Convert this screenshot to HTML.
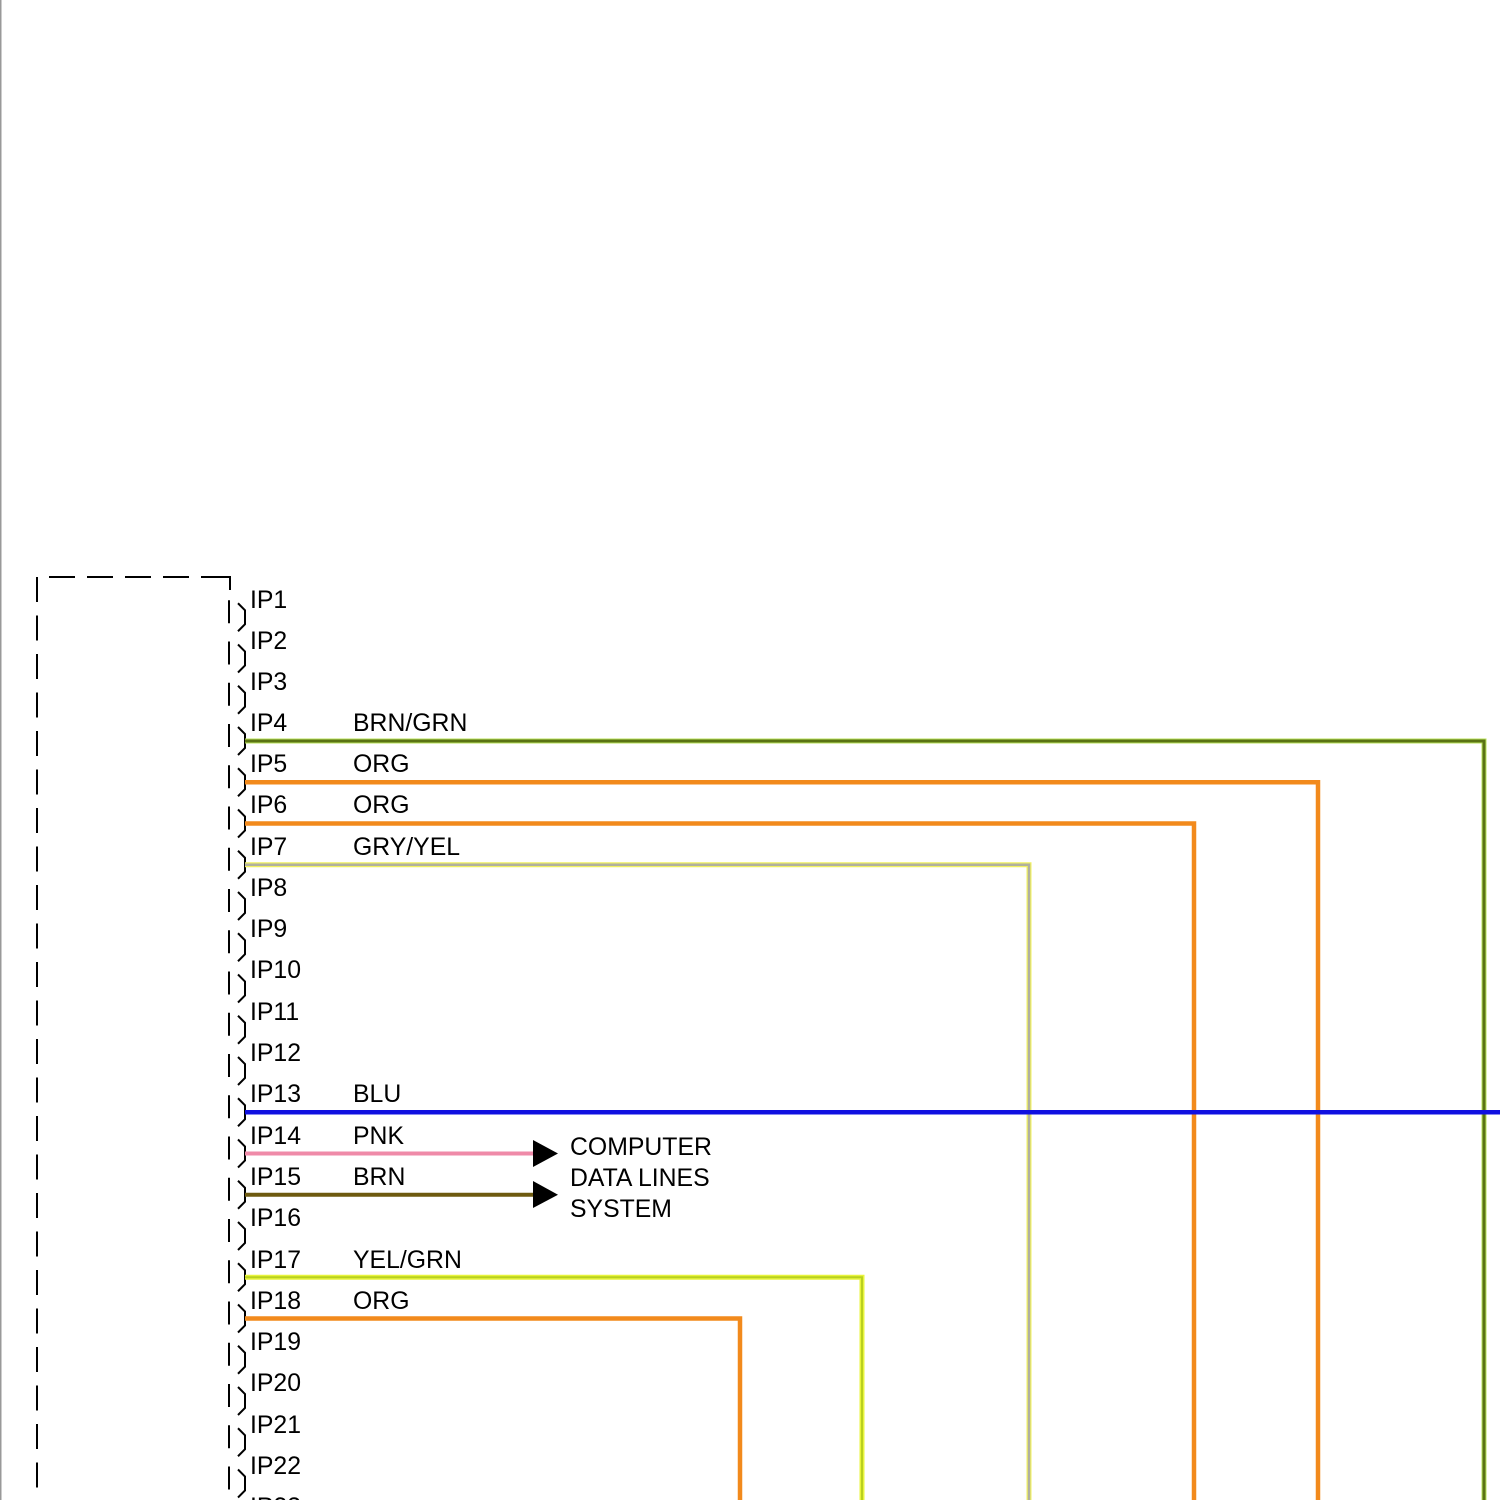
<!DOCTYPE html>
<html><head><meta charset="utf-8"><style>
html,body{margin:0;padding:0;background:#fff}
svg{display:block}
text{font-family:"Liberation Sans",Arial,sans-serif;font-size:24.8px;fill:#000}
</style></head><body>
<svg width="1500" height="1500" viewBox="0 0 1500 1500" xmlns="http://www.w3.org/2000/svg">
<defs>
<g id="br"><path d="M229 -17 V6" stroke="#000" stroke-width="2" fill="none"/><path d="M238 -14 L245 -7 V7 L238 14" stroke="#000" stroke-width="2" fill="none"/></g>
</defs>
<rect x="0" y="0" width="1.5" height="1500" fill="#999"/>
<!-- dashed frame -->
<path d="M37 577 V1500" fill="none" stroke="#000" stroke-width="2" stroke-dasharray="25 13.5"/>
<path d="M49 577 H205" fill="none" stroke="#000" stroke-width="2" stroke-dasharray="26 12"/>
<path d="M205 577 H230 V590" fill="none" stroke="#000" stroke-width="2"/>
<!-- brackets -->
<use href="#br" y="617.25"/><use href="#br" y="658.5"/><use href="#br" y="699.75"/><use href="#br" y="741"/>
<use href="#br" y="782.25"/><use href="#br" y="823.5"/><use href="#br" y="864.75"/><use href="#br" y="906"/>
<use href="#br" y="947.25"/><use href="#br" y="988.5"/><use href="#br" y="1029.75"/><use href="#br" y="1071"/>
<use href="#br" y="1112.25"/><use href="#br" y="1153.5"/><use href="#br" y="1194.75"/><use href="#br" y="1236"/>
<use href="#br" y="1277.25"/><use href="#br" y="1318.5"/><use href="#br" y="1359.75"/><use href="#br" y="1401"/>
<use href="#br" y="1442.25"/><use href="#br" y="1483.5"/><use href="#br" y="1524.75"/>
<!-- wires -->
<g fill="none" stroke-linejoin="miter">
<path d="M245 741 H1484 V1500" stroke="#b8e05a" stroke-width="5"/>
<path d="M245 741 H1484 V1500" stroke="#5a7314" stroke-width="3"/>
<path d="M245 782.25 H1318 V1500" stroke="#f28a1c" stroke-width="4.5"/>
<path d="M245 823.5 H1194 V1500" stroke="#f28a1c" stroke-width="4.5"/>
<path d="M245 864.75 H1029 V1500" stroke="#f0f060" stroke-width="5"/>
<path d="M245 864.75 H1029 V1500" stroke="#b0b0a0" stroke-width="2.5"/>
<path d="M245 1112.25 H1500" stroke="#1010e0" stroke-width="4.5"/>
<path d="M245 1153.5 H535" stroke="#ef8aa8" stroke-width="4"/>
<path d="M245 1194.75 H535" stroke="#6e5a10" stroke-width="4"/>
<path d="M245 1277.25 H862 V1500" stroke="#e8f43a" stroke-width="5"/>
<path d="M245 1277.25 H862 V1500" stroke="#b8d020" stroke-width="2"/>
<path d="M245 1318.5 H740 V1500" stroke="#f28a1c" stroke-width="4.5"/>
</g>
<polygon points="533,1140 558,1153.5 533,1167" fill="#000"/>
<polygon points="533,1181 558,1194.75 533,1208" fill="#000"/>
<!-- labels -->
<text x="250" y="608">IP1</text>
<text x="250" y="649">IP2</text>
<text x="250" y="690">IP3</text>
<text x="250" y="731">IP4</text><text x="353" y="731">BRN/GRN</text>
<text x="250" y="772">IP5</text><text x="353" y="772">ORG</text>
<text x="250" y="813">IP6</text><text x="353" y="813">ORG</text>
<text x="250" y="855">IP7</text><text x="353" y="855">GRY/YEL</text>
<text x="250" y="896">IP8</text>
<text x="250" y="937">IP9</text>
<text x="250" y="978">IP10</text>
<text x="250" y="1020">IP11</text>
<text x="250" y="1061">IP12</text>
<text x="250" y="1102">IP13</text><text x="353" y="1102">BLU</text>
<text x="250" y="1144">IP14</text><text x="353" y="1144">PNK</text>
<text x="250" y="1185">IP15</text><text x="353" y="1185">BRN</text>
<text x="250" y="1226">IP16</text>
<text x="250" y="1268">IP17</text><text x="353" y="1268">YEL/GRN</text>
<text x="250" y="1309">IP18</text><text x="353" y="1309">ORG</text>
<text x="250" y="1350">IP19</text>
<text x="250" y="1391">IP20</text>
<text x="250" y="1433">IP21</text>
<text x="250" y="1474">IP22</text>
<text x="250" y="1515">IP23</text>
<text x="570" y="1155">COMPUTER</text>
<text x="570" y="1186">DATA LINES</text>
<text x="570" y="1217">SYSTEM</text>
</svg>
</body></html>
